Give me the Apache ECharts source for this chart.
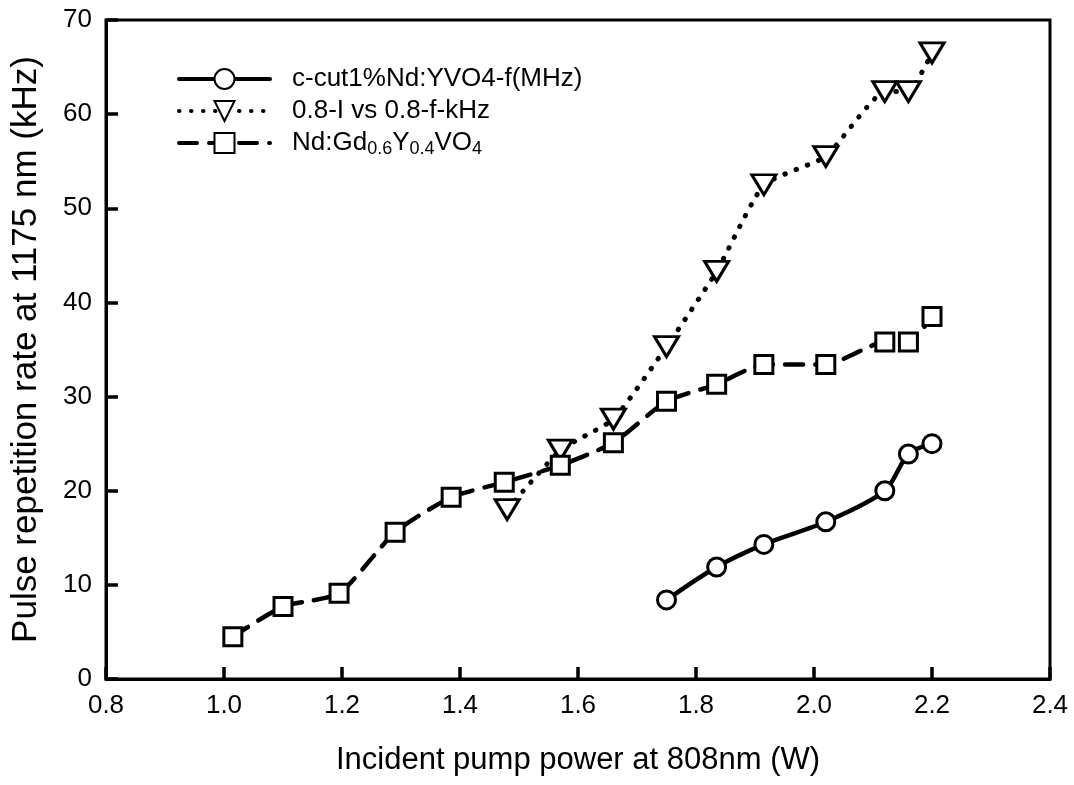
<!DOCTYPE html>
<html>
<head>
<meta charset="utf-8">
<script src="https://cdn.jsdelivr.net/npm/echarts@6/dist/echarts.min.js"></script>
<style>
html,body{margin:0;padding:0;background:#fff;}
#chart{width:1074px;height:785px;}
</style>
</head>
<body>
<div id="chart"></div>
<script>
// Series names
const nameCircle = 'c-cut1%Nd:YVO4-f(MHz)';
const nameTri = '0.8-I vs 0.8-f-kHz';
const nameSq = 'Nd:Gd0.6Y0.4VO4';

// Circle series (solid)
const circleX = [1.75, 1.835, 1.915, 2.02, 2.12, 2.16, 2.2];
const circleY = [8.4, 11.9, 14.3, 16.7, 20.0, 23.9, 25.0];

// Triangle series (dotted)
const triX = [1.48, 1.57, 1.66, 1.75, 1.835, 1.915, 2.02, 2.12, 2.16, 2.2];
const triY = [18.0, 24.3, 27.6, 35.3, 43.3, 52.5, 55.5, 62.4, 62.4, 66.5];

// Square series (dashed)
const sqX = [1.015, 1.10, 1.195, 1.29, 1.385, 1.475, 1.57, 1.66, 1.75, 1.835, 1.915, 2.02, 2.12, 2.16, 2.2];
const sqY = [4.5, 7.7, 9.1, 15.6, 19.3, 20.9, 22.7, 25.1, 29.5, 31.3, 33.4, 33.4, 35.8, 35.8, 38.5];

const xTitle = 'Incident pump power at 808nm (W)';
const yTitle = 'Pulse repetition rate at 1175 nm (kHz)';

const zip = (xs, ys) => xs.map((x, i) => [x, ys[i]]);
const FONT = 'Liberation Sans, Arial, sans-serif';

const chart = echarts.init(document.getElementById('chart'));
const markerStyle = { color: '#fff', borderColor: '#000', borderWidth: 3 };

chart.setOption({
  animation: false,
  backgroundColor: '#fff',
  textStyle: { fontFamily: FONT, color: '#000' },
  grid: { left: 106, right: 24, top: 20, bottom: 106, show: true, borderColor: '#000', borderWidth: 3, backgroundColor: 'transparent' },
  legend: {
    orient: 'vertical',
    left: 177,
    top: 66,
    padding: 0,
    itemWidth: 91,
    itemHeight: 25,
    itemGap: 6,
    lineStyle: { width: 4, cap: 'round' },
    data: [nameCircle, nameTri, nameSq],
    formatter: function (n) {
      if (n === nameSq) {
        return '{b|Nd:Gd}{s|0.6}{b|Y}{s|0.4}{b|VO}{s|4}';
      }
      return '{b|' + n + '}';
    },
    textStyle: {
      fontFamily: FONT, color: '#000', fontSize: 26,
      padding: [0, 0, 0, 17],
      rich: {
        b: { fontFamily: FONT, fontSize: 26, lineHeight: 30, color: '#000' },
        s: { fontFamily: FONT, fontSize: 18, lineHeight: 6, verticalAlign: 'bottom', color: '#000' }
      }
    }
  },
  xAxis: {
    type: 'value', min: 0.8, max: 2.4, interval: 0.2,
    name: xTitle, nameLocation: 'middle', nameGap: 66,
    nameTextStyle: { fontFamily: FONT, fontSize: 31, color: '#000' },
    axisLine: { show: true, lineStyle: { color: '#000', width: 3 } },
    axisTick: { show: true, inside: true, length: 12, lineStyle: { color: '#000', width: 3.5 } },
    axisLabel: { fontFamily: FONT, fontSize: 26, color: '#000', margin: 14, formatter: v => v.toFixed(1) },
    splitLine: { show: false }
  },
  yAxis: {
    type: 'value', min: 0, max: 70, interval: 10,
    name: yTitle, nameLocation: 'middle', nameGap: 62,
    nameTextStyle: { fontFamily: FONT, fontSize: 35, color: '#000' },
    axisLine: { show: true, lineStyle: { color: '#000', width: 3 } },
    axisTick: { show: true, inside: true, length: 12, lineStyle: { color: '#000', width: 3.5 } },
    axisLabel: { fontFamily: FONT, fontSize: 26, color: '#000', margin: 14 },
    splitLine: { show: false }
  },
  series: [
    {
      name: nameCircle, type: 'line', data: zip(circleX, circleY),
      smooth: 0.3, symbol: 'circle', symbolSize: 18,
      lineStyle: { color: '#000', width: 4.5 },
      itemStyle: markerStyle, z: 3
    },
    {
      name: nameTri, type: 'line', data: zip(triX, triY),
      smooth: 0.15, symbol: 'triangle', symbolRotate: 180, symbolSize: [24, 20],
      lineStyle: { color: '#000', width: 5, type: [0.5, 11.5], cap: 'round' },
      itemStyle: markerStyle, z: 2
    },
    {
      name: nameSq, type: 'line', data: zip(sqX, sqY),
      smooth: 0.2, symbol: 'rect', symbolSize: 18,
      lineStyle: { color: '#000', width: 4.5, type: [18, 12], cap: 'round' },
      itemStyle: markerStyle, z: 4
    }
  ]
});
</script>
</body>
</html>
